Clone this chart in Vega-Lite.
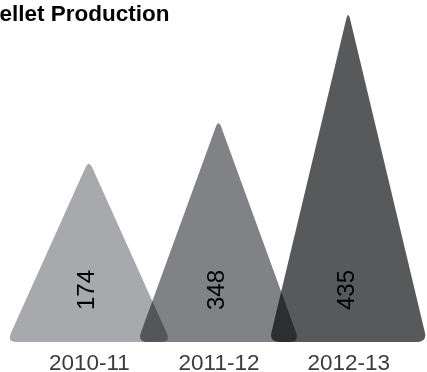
{
  "$schema": "https://vega.github.io/schema/vega-lite/v6.json",
  "autosize": "none",
  "width": 389,
  "height": 342,
  "padding": {"left": 24, "right": 14, "top": 0, "bottom": 30},
  "background": "white",
  "view": {"stroke": null},
  "title": {
    "text": "Pellet Production",
    "anchor": "start",
    "frame": "group",
    "font": "Liberation Sans",
    "fontSize": 22.5,
    "fontWeight": "bold",
    "color": "#000000",
    "baseline": "alphabetic",
    "offset": -43,
    "dx": -39.5
  },
  "data": {
    "values": [
      {"year": "2010-11", "value": 174},
      {"year": "2011-12", "value": 348},
      {"year": "2012-13", "value": 435}
    ]
  },
  "encoding": {
    "x": {
      "field": "year",
      "type": "nominal",
      "sort": null,
      "scale": {"type": "point", "padding": 0.5},
      "axis": {
        "title": null,
        "domain": false,
        "ticks": false,
        "tickSize": 0,
        "grid": false,
        "labelAngle": 0,
        "labelFont": "Liberation Sans",
        "labelFontSize": 22.5,
        "labelColor": "#3c3c3c",
        "labelBaseline": "alphabetic",
        "labelPadding": 27
      }
    },
    "y": {"datum": 0, "type": "quantitative", "scale": {"domain": [0, 435]}, "axis": null}
  },
  "layer": [
    {
      "mark": {"type": "point", "filled": true, "size": 4, "opacity": 1, "strokeWidth": 0, "blend": "multiply"},
      "encoding": {
        "color": {
          "field": "year",
          "type": "nominal",
          "scale": {"domain": ["2010-11", "2011-12", "2012-13"], "range": ["#a7a9ac", "#808285", "#58595b"]},
          "legend": null
        },
        "shape": {
          "field": "year",
          "type": "nominal",
          "scale": {
            "domain": ["2010-11", "2011-12", "2012-13"],
            "range": [
              "M -72 0 L 72 0 Q 82 0 77.89 -9.12 L 3.29 -174.71 Q 0 -182 -3.29 -174.71 L -77.89 -9.12 Q -82 0 -72 0 Z",
              "M -71 0 L 71 0 Q 81 0 77.58 -9.4 L 2.74 -214.98 Q 0 -222.5 -2.74 -214.98 L -77.58 -9.4 Q -81 0 -71 0 Z",
              "M -69 0 L 69 0 Q 79 0 76.68 -9.73 L 1.86 -323.22 Q 0 -331 -1.86 -323.22 L -76.68 -9.73 Q -79 0 -69 0 Z"
            ]
          },
          "legend": null
        }
      }
    },
    {
      "mark": {
        "type": "text",
        "angle": 270,
        "align": "center",
        "baseline": "middle",
        "dx": 52,
        "dy": -1.5,
        "font": "Liberation Sans",
        "fontSize": 24,
        "color": "#000000"
      },
      "encoding": {
        "text": {"field": "value", "type": "quantitative"}
      }
    }
  ]
}
